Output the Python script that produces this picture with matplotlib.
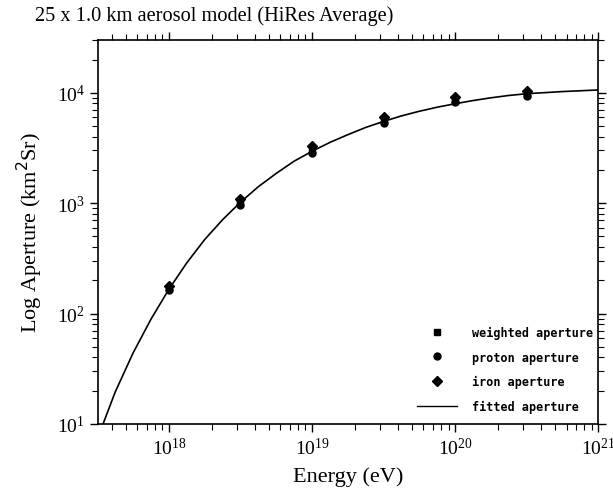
import matplotlib
matplotlib.use("Agg")
import matplotlib.pyplot as plt
from matplotlib.lines import Line2D

# energies of the simulated sets (eV)
energy = [1e18, 3.16e18, 1e19, 3.16e19, 1e20, 3.16e20]
weighted = [170, 1000, 3000, 5500, 8500, 9600]
weighted_err = [15, 90, 250, 400, 500, 600]
proton = [165, 960, 2850, 5300, 8300, 9300]
iron = [178, 1080, 3300, 6000, 9200, 10300]

# fitted aperture curve (log10 E, km^2 sr)
fit_logE = [17.54, 17.625, 17.75, 17.875, 18.0, 18.125, 18.25, 18.375, 18.5, 18.625,
            18.75, 18.875, 19.0, 19.125, 19.25, 19.375, 19.5, 19.625, 19.75, 19.875,
            20.0, 20.125, 20.25, 20.375, 20.5, 20.75, 21.0]
fit_ap = [10, 19.5, 44, 89, 166, 288, 468, 708, 1020, 1410,
          1860, 2400, 2950, 3550, 4170, 4850, 5500, 6170, 6800, 7400,
          7950, 8500, 9000, 9450, 9800, 10250, 10600]

plt.rcParams['font.family'] = ['Liberation Serif', 'DejaVu Serif']

fig = plt.figure(figsize=(6.13, 4.89), dpi=100)
ax = fig.add_axes([0.160, 0.131, 0.816, 0.785])

ax.plot([10**v for v in fit_logE], fit_ap, color='black', lw=1.2)

ax.errorbar(energy, weighted, yerr=weighted_err, fmt='s', color='black',
            ms=5, capsize=0, elinewidth=1)
ax.plot(energy, proton, 'o', color='black', ms=5)
ax.plot(energy, iron, 'D', color='black', ms=5)

ax.set_xscale('log')
ax.set_yscale('log')
ax.set_xlim(3.2e17, 1e21)
ax.set_ylim(10, 3e4)

ax.tick_params(which='both', direction='out', top=True, right=True, labelsize=14)
ax.tick_params(which='major', length=6, width=1)
ax.tick_params(which='minor', length=4, width=0.8)
for s in ax.spines.values():
    s.set_linewidth(1.2)

ax.set_xlabel('Energy (eV)', fontsize=16, labelpad=6)
ax.set_ylabel('Log Aperture (km$^2$Sr)', fontsize=16, labelpad=8)
fig.text(0.057, 0.968, '25 x 1.0 km aerosol model (HiRes Average)', fontsize=14.7,
         va='center', ha='left')

handles = [
    Line2D([], [], marker='s', ls='none', color='black', ms=5),
    Line2D([], [], marker='o', ls='none', color='black', ms=5),
    Line2D([], [], marker='D', ls='none', color='black', ms=5),
    Line2D([], [], color='black', lw=1),
]
labels = ['weighted aperture', 'proton aperture', 'iron aperture', 'fitted aperture']
ax.legend(handles, labels, loc='lower right', frameon=False,
          prop={'family': 'DejaVu Sans Mono', 'weight': 'bold', 'size': 8.5},
          handlelength=3.4, handletextpad=1.2, labelspacing=1.0,
          bbox_to_anchor=(1.01, 0.0))

fig.savefig('out.png', dpi=100)
